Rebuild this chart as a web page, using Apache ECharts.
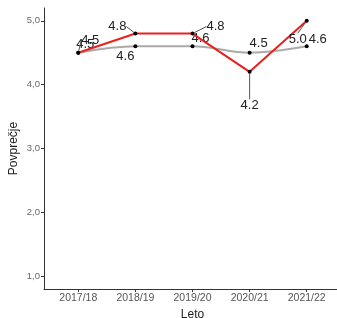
<!DOCTYPE html>
<html>
<head>
<meta charset="utf-8">
<script src="https://cdn.jsdelivr.net/npm/echarts@6/dist/echarts.min.js"></script>
<style>
html,body{margin:0;padding:0;background:#fff}
#chart{width:337px;height:318px}
</style>
</head>
<body>
<div id="chart"></div>
<script>
// leta in povprecja
var years = ['2017/18', '2018/19', '2019/20', '2020/21', '2021/22']
var skupaj = [4.5, 4.6, 4.6, 4.5, 4.6]     // siva crta
var ucitelj = [4.5, 4.8, 4.8, 4.2, 5.0]    // rdeca crta
var yTicks = [1, 2, 3, 4, 5]

// premiki oznak (kot ggrepel), v px glede na tocko
var redOff = [[12, -12], [-18, -7], [23, -7], [0, 34], [-9, 19]]
var greyOff = [[7, -8], [-10, 10], [8, -8], [9, -9], [11, -7]]

var pts = arr => arr.map((v, i) => [i + 1, v])
var font = 'Liberation Sans, Arial, sans-serif'

var chart = echarts.init(document.getElementById('chart'))
chart.setOption({
    animation: false,
    grid: {left: 44, top: 8, width: 297, height: 281, containLabel: false, outerBoundsMode: 'none'},
    xAxis: {
        type: 'value', min: 0.4, max: 5.6, interval: 1,
        name: 'Leto', nameLocation: 'middle', nameGap: 16,
        nameTextStyle: {fontFamily: font, fontSize: 12, color: '#222'},
        axisLine: {lineStyle: {color: '#333', width: 1}},
        axisTick: {length: 3, lineStyle: {color: '#333'}, customValues: [1, 2, 3, 4, 5]},
        axisLabel: {fontFamily: font, fontSize: 10.5, color: '#555', margin: 4,
            customValues: [1, 2, 3, 4, 5], formatter: v => years[v - 1] || ''},
        splitLine: {show: false}
    },
    yAxis: {
        type: 'value', min: 0.8, max: 5.2,
        name: 'Povprečje', nameLocation: 'middle', nameGap: 24, nameMoveOverlap: false,
        nameTextStyle: {fontFamily: font, fontSize: 12, color: '#222'},
        axisLine: {show: true, lineStyle: {color: '#333', width: 1}},
        axisTick: {show: true, length: 3, lineStyle: {color: '#333'}, customValues: yTicks},
        axisLabel: {fontFamily: font, fontSize: 9.5, color: '#666', margin: 4,
            customValues: yTicks, formatter: v => v.toFixed(1).replace('.', ',')},
        splitLine: {show: false}
    },
    series: [{
        type: 'line', data: pts(skupaj), smooth: 0.35,
        lineStyle: {color: '#aaaaaa', width: 2},
        symbol: 'circle', symbolSize: 4, itemStyle: {color: '#000'},
        label: {show: true, position: 'inside', fontFamily: font, fontSize: 13, color: '#222',
            formatter: p => p.value[1].toFixed(1)},
        labelLayout: p => ({dx: greyOff[p.dataIndex][0], dy: greyOff[p.dataIndex][1]}),
        z: 2
    }, {
        type: 'line', data: pts(ucitelj),
        lineStyle: {color: '#e8201e', width: 2},
        symbol: 'circle', symbolSize: 4, itemStyle: {color: '#000'},
        label: {show: true, position: 'inside', fontFamily: font, fontSize: 13, color: '#222',
            formatter: p => p.value[1].toFixed(1)},
        labelLine: {show: true, lineStyle: {color: '#555', width: 1}},
        labelLayout: p => ({dx: redOff[p.dataIndex][0], dy: redOff[p.dataIndex][1]}),
        z: 3
    }]
})
</script>
</body>
</html>
